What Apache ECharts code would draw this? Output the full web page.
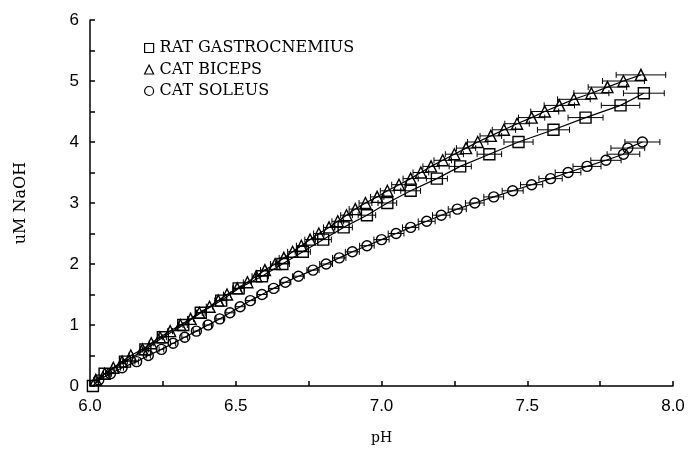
<!DOCTYPE html>
<html>
<head>
<meta charset="utf-8">
<script src="https://cdn.jsdelivr.net/npm/echarts@6/dist/echarts.min.js"></script>
<style>html,body{margin:0;padding:0;background:#fff}#c{width:692px;height:458px}</style>
</head>
<body>
<div id="c"></div>
<script>
// ---- data ----
var seriesNames = ['RAT GASTROCNEMIUS', 'CAT BICEPS', 'CAT SOLEUS'];
var xTickLabels = ['6.0', '6.5', '7.0', '7.5', '8.0'];
var yTickLabels = ['0', '1', '2', '3', '4', '5', '6'];

// RAT GASTROCNEMIUS (squares)
var ratNaOH = [0.0, 0.2, 0.4, 0.6, 0.8, 1.0, 1.2, 1.4, 1.6, 1.8, 2.0, 2.2, 2.4, 2.6, 2.8, 3.0, 3.2, 3.4, 3.6, 3.8, 4.0, 4.2, 4.4, 4.6, 4.8];
var ratPH   = [6.01, 6.05, 6.12, 6.19, 6.25, 6.32, 6.38, 6.45, 6.51, 6.59, 6.66, 6.73, 6.80, 6.87, 6.95, 7.02, 7.10, 7.19, 7.27, 7.37, 7.47, 7.59, 7.70, 7.82, 7.90];
var ratErr  = [0, 0.005, 0.008, 0.01, 0.012, 0.014, 0.015, 0.017, 0.02, 0.022, 0.024, 0.026, 0.028, 0.03, 0.03, 0.032, 0.034, 0.036, 0.038, 0.042, 0.05, 0.055, 0.06, 0.066, 0.07];

// CAT BICEPS (triangles)
var bicNaOH = [0.1,0.2,0.3,0.4,0.5,0.6,0.7,0.8,0.9,1.0,1.1,1.2,1.3,1.4,1.5,1.6,1.7,1.8,1.9,2.0,2.1,2.2,2.3,2.4,2.5,2.6,2.7,2.8,2.9,3.0,3.1,3.2,3.3,3.4,3.5,3.6,3.7,3.8,3.9,4.0,4.1,4.2,4.3,4.4,4.5,4.6,4.7,4.8,4.9,5.0,5.1];
var bicPH   = [6.02,6.05,6.08,6.11,6.14,6.18,6.21,6.24,6.275,6.31,6.345,6.375,6.41,6.44,6.47,6.505,6.54,6.57,6.60,6.635,6.665,6.695,6.725,6.755,6.785,6.82,6.85,6.88,6.91,6.945,6.985,7.02,7.06,7.10,7.135,7.17,7.21,7.25,7.29,7.33,7.375,7.42,7.465,7.515,7.56,7.61,7.66,7.72,7.775,7.83,7.89];
var bicErr  = [0.003,0.004,0.005,0.005,0.006,0.006,0.007,0.008,0.008,0.009,0.01,0.01,0.011,0.012,0.012,0.013,0.014,0.014,0.015,0.016,0.016,0.017,0.017,0.018,0.018,0.019,0.02,0.02,0.021,0.022,0.023,0.024,0.025,0.026,0.027,0.028,0.03,0.031,0.033,0.035,0.037,0.04,0.042,0.045,0.048,0.052,0.056,0.06,0.066,0.072,0.085];

// CAT SOLEUS (circles)
var solNaOH = [0.1,0.2,0.3,0.4,0.5,0.6,0.7,0.8,0.9,1.0,1.1,1.2,1.3,1.4,1.5,1.6,1.7,1.8,1.9,2.0,2.1,2.2,2.3,2.4,2.5,2.6,2.7,2.8,2.9,3.0,3.1,3.2,3.3,3.4,3.5,3.6,3.7,3.8,3.9,4.0];
var solPH   = [6.03,6.07,6.11,6.16,6.20,6.245,6.285,6.325,6.365,6.405,6.445,6.48,6.515,6.55,6.59,6.63,6.67,6.715,6.765,6.81,6.855,6.90,6.95,7.00,7.05,7.10,7.155,7.205,7.26,7.32,7.385,7.45,7.515,7.58,7.64,7.705,7.77,7.83,7.845,7.895];
var solErr  = [0.003,0.004,0.005,0.006,0.007,0.008,0.009,0.01,0.011,0.012,0.013,0.014,0.015,0.016,0.017,0.018,0.019,0.02,0.021,0.022,0.023,0.024,0.025,0.026,0.027,0.028,0.029,0.03,0.031,0.032,0.034,0.036,0.038,0.04,0.044,0.048,0.052,0.056,0.058,0.06];

// ---- build ----
function pairs(xs, ys) { return xs.map(function (x, i) { return [x, ys[i]]; }); }
function triples(xs, ys, es) { return xs.map(function (x, i) { return [x, ys[i], es[i]]; }); }

function errRender(params, api) {
  var x = api.value(0), y = api.value(1), e = api.value(2);
  if (!e) return null;
  var p1 = api.coord([x - e, y]), p2 = api.coord([x + e, y]);
  var c = 3;
  var st = { stroke: '#000', lineWidth: 1 };
  return {
    type: 'group',
    children: [
      { type: 'line', shape: { x1: p1[0], y1: p1[1], x2: p2[0], y2: p2[1] }, style: st },
      { type: 'line', shape: { x1: p1[0], y1: p1[1] - c, x2: p1[0], y2: p1[1] + c }, style: st },
      { type: 'line', shape: { x1: p2[0], y1: p2[1] - c, x2: p2[0], y2: p2[1] + c }, style: st }
    ]
  };
}

var symbols = ['rect', 'triangle', 'circle'];
var sizes = [11, 11, 10];
var datasets = [pairs(ratPH, ratNaOH), pairs(bicPH, bicNaOH), pairs(solPH, solNaOH)];
var errsets = [triples(ratPH, ratNaOH, ratErr), triples(bicPH, bicNaOH, bicErr), triples(solPH, solNaOH, solErr)];

var series = [];
for (var i = 0; i < 3; i++) {
  series.push({
    type: 'custom',
    renderItem: errRender,
    data: errsets[i],
    encode: { x: 0, y: 1 },
    silent: true,
    z: 1
  });
}
for (var j = 0; j < 3; j++) {
  series.push({
    name: seriesNames[j],
    type: 'line',
    data: datasets[j],
    symbol: symbols[j],
    symbolSize: sizes[j],
    showAllSymbol: true,
    lineStyle: { color: '#000', width: 1.2 },
    itemStyle: { color: 'rgba(0,0,0,0)', borderColor: '#000', borderWidth: 1.4 },
    animation: false,
    z: 2
  });
}

var chart = echarts.init(document.getElementById('c'), null, { renderer: 'canvas' });
chart.setOption({
  animation: false,
  backgroundColor: '#fff',
  grid: { left: 90, right: 19, top: 20, bottom: 72 },
  legend: {
    orient: 'vertical',
    left: 139,
    top: 35,
    itemWidth: 9,
    itemHeight: 9,
    itemGap: 5.5,
    data: [
      { name: seriesNames[0], icon: 'rect' },
      { name: seriesNames[1], icon: 'triangle' },
      { name: seriesNames[2], icon: 'circle' }
    ],
    itemStyle: { color: 'rgba(0,0,0,0)', borderColor: '#000', borderWidth: 1.2 },
    textStyle: { fontFamily: 'DejaVu Serif', fontSize: 16, color: '#000', lineHeight: 16, padding: [0, 0, 0, 1] },
    selectedMode: false
  },
  xAxis: {
    type: 'value',
    min: 6.0,
    max: 8.0,
    interval: 0.25,
    name: 'pH',
    nameLocation: 'middle',
    nameGap: 45,
    nameTextStyle: { fontFamily: 'DejaVu Serif', fontSize: 14, color: '#000' },
    axisLine: { lineStyle: { color: '#000', width: 1.5 } },
    axisTick: { inside: true, length: 5, lineStyle: { color: '#000', width: 1.5 } },
    splitLine: { show: false },
    axisLabel: {
      margin: 12,
      fontFamily: 'Liberation Sans',
      fontSize: 17,
      color: '#000',
      formatter: function (v) {
        var k = Math.round(v * 2);
        if (Math.abs(v * 2 - k) > 1e-6) return '';
        return xTickLabels[k - 12];
      }
    }
  },
  yAxis: {
    type: 'value',
    min: 0,
    max: 6,
    interval: 0.5,
    name: 'uM NaOH',
    nameLocation: 'middle',
    nameGap: 61,
    nameRotate: 90,
    nameTextStyle: { fontFamily: 'DejaVu Serif', fontSize: 16, color: '#000' },
    axisLine: { show: true, lineStyle: { color: '#000', width: 1.5 } },
    axisTick: { show: true, inside: true, length: 5, lineStyle: { color: '#000', width: 1.5 } },
    splitLine: { show: false },
    axisLabel: {
      margin: 11,
      fontFamily: 'Liberation Sans',
      fontSize: 17,
      color: '#000',
      formatter: function (v) {
        var k = Math.round(v);
        if (Math.abs(v - k) > 1e-6) return '';
        return yTickLabels[k];
      }
    }
  },
  series: series
});
</script>
</body>
</html>
